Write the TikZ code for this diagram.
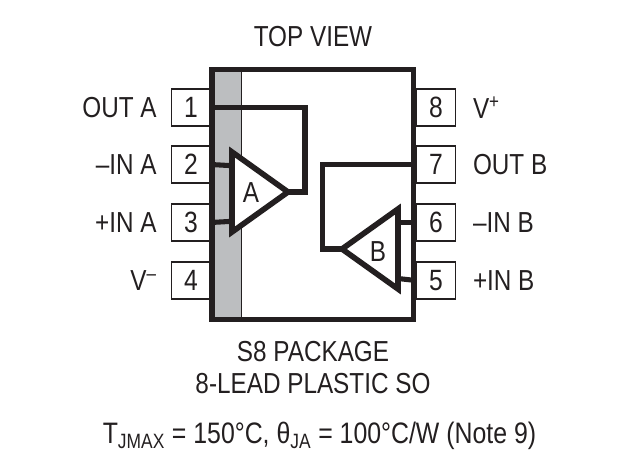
\documentclass[tikz,border=0pt]{standalone}
\usepackage{fontspec}
\setmainfont[FakeStretch=0.84]{Liberation Sans}
\usetikzlibrary{positioning}
\definecolor{padgray}{HTML}{BCBEC0}
\definecolor{inkblack}{HTML}{231F20}

\begin{document}
\begin{tikzpicture}[
		x=0.75pt, y=-0.75pt,
		color=inkblack,
		pinbox/.style={draw, line width=1.1pt, fill=white, minimum width=29pt, minimum height=27.5pt, inner sep=0pt, font=\fontsize{22}{22}\selectfont},
		caption/.style={font=\fontsize{21.7}{22}\selectfont, inner sep=0pt},
		wire/.style={line width=3.8pt, line join=miter},
		amp/.style={line width=4.2pt, line join=miter},
		]
		\useasboundingbox (0,0) rectangle (622,465);
		
		% pins
		\node[pinbox] (p1) at (191,107.5) {1};
		\node[pinbox] (p2) at (191,164.5) {2};
		\node[pinbox] (p3) at (191,222.5) {3};
		\node[pinbox] (p4) at (191,280.5) {4};
		\node[pinbox] (p8) at (436,107.5) {8};
		\node[pinbox] (p7) at (436,164.5) {7};
		\node[pinbox] (p6) at (436,222.5) {6};
		\node[pinbox] (p5) at (436,280.5) {5};
		
		% package
		\node[draw=none, fill=padgray, minimum width=21.8pt, minimum height=186pt, inner sep=0pt] (strip) at (227,194.5) {};
		\draw[line width=0.6pt] (strip.north east) -- (strip.south east);
		\node[draw, line width=4.2pt, minimum width=151pt, minimum height=187.5pt, inner sep=0pt] (pkg) at (312.7,194.5) {};
		
		% pin labels
		\node[caption, left=10.5pt of p1] (l1) {OUT A};
		\node[caption, left=10.5pt of p2] (l2) {–IN A};
		\node[caption, left=10.5pt of p3] (l3) {+IN A};
		\node[caption, left=10.5pt of p4] (l4) {V\textsuperscript{–}};
		\node[caption, right=12.5pt of p8] (l8) {V\textsuperscript{+}};
		\node[caption, right=12.5pt of p7] (l7) {OUT B};
		\node[caption, right=12.5pt of p6] (l6) {–IN B};
		\node[caption, right=12.5pt of p5] (l5) {+IN B};
		
		% amplifier A
		\coordinate (a1) at (232,152);
		\coordinate (a2) at (232,232);
		\coordinate (a3) at (288,192);
		\coordinate (ain) at (232,165.7);
		\coordinate (aip) at (232,221.3);
		\draw[wire] (p1.east) -- (305,107.5) -- (305,192) -- (a3);
		\draw[wire] (p2.east) -- (ain);
		\draw[wire] (p3.east) -- (aip);
		\draw[amp, fill=white] (a1) -- (a3) -- (a2) -- cycle;
		\node[caption] (ampa) at (251,193) {A};
		
		% amplifier B
		\coordinate (b1) at (398,209);
		\coordinate (b2) at (398,289);
		\coordinate (b3) at (342,249);
		\coordinate (bin) at (398,222.5);
		\coordinate (bip) at (398,278.5);
		\draw[wire] (p7.west) -- (322.3,164.5) -- (322.3,249) -- (b3);
		\draw[wire] (p6.west) -- (bin);
		\draw[wire] (p5.west) -- (bip);
		\draw[amp, fill=white] (b1) -- (b3) -- (b2) -- cycle;
		\node[caption] (ampb) at (378,252) {B};
		
		% captions
		\node[caption] (top) at (313,37) {TOP VIEW};
		\node[caption] (pack) at (313,352) {S8 PACKAGE};
		\node[caption, below=8pt of pack] (lead) {8-LEAD PLASTIC SO};
		\node[caption, font=\fontsize{22.2}{22}\selectfont] (note) at (319.5,436) {T\textsubscript{JMAX} = 150°C, θ\textsubscript{JA} = 100°C/W (Note 9)};
		
	\end{tikzpicture}
\end{document}
